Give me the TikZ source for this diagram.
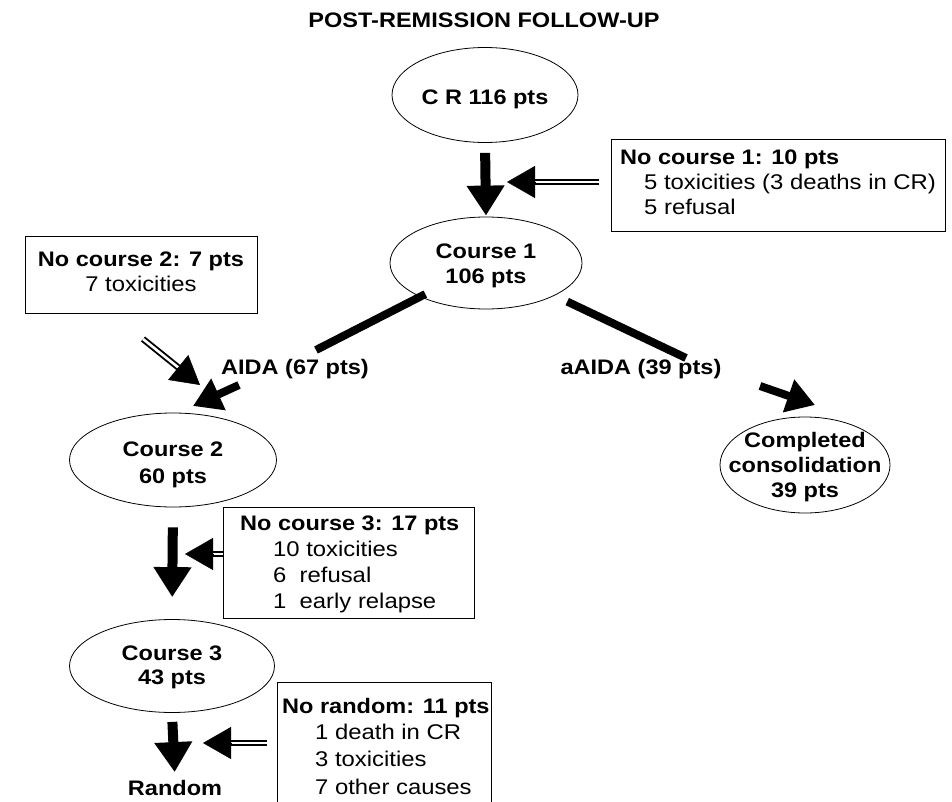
\documentclass[tikz,border=0pt]{standalone}
\usepackage{graphicx}
\usepackage{fontspec}
\setmainfont{Liberation Sans}
\usetikzlibrary{shapes.geometric,arrows.meta,calc}
\newcommand{\hs}[1]{\scalebox{1.12}[1]{#1}}
\begin{document}
\begin{tikzpicture}[x=1pt,y=-1pt,
  every node/.style={font=\fontsize{21.3}{25.5}\selectfont, inner sep=0pt, text=black},
  ell/.style={ellipse, draw, line width=0.8pt},
  box/.style={draw, line width=1pt, rectangle, anchor=north west},
  txt/.style={anchor=base west},
  ctxt/.style={anchor=base, font=\fontsize{21}{25.5}\selectfont\bfseries},
  bold/.style={font=\fontsize{21}{25.5}\selectfont\bfseries},
  bigarrow/.style={line width=10pt, -{Triangle[length=30pt,width=36pt]}},
  midarrow/.style={line width=8pt, -{Triangle[length=28pt,width=33pt]}},
  thickline/.style={line width=8pt},
  dblshaft/.style={double, double distance=2.6pt, line width=1.9pt},
  dblhead/.style={-{Triangle[length=28pt,width=32pt]}, line width=0.5pt}
]
\useasboundingbox (0,0) rectangle (952,802);
\clip (0,0) rectangle (952,802);

% title
\node[ctxt] (title) at (484,27.5) {\hs{POST-REMISSION FOLLOW-UP}};

% ellipses
\node[ell, minimum width=186, minimum height=95] (cr) at (485,95) {};
\node[ctxt] (crt) at (485,104.5) {\hs{C R 116 pts}};

\node[ell, minimum width=192, minimum height=92] (c1) at (486,263) {};
\node[ctxt] (c1a) at (486,258.5) {\hs{Course 1}};
\node[ctxt] (c1b) at (486,283.5) {\hs{106 pts}};

\node[ell, minimum width=207, minimum height=94] (c2) at (173,460) {};
\node[ctxt] (c2a) at (173,456.5) {\hs{Course 2}};
\node[ctxt] (c2b) at (173,483.5) {\hs{60 pts}};

\node[ell, minimum width=205, minimum height=93] (c3) at (172,666) {};
\node[ctxt] (c3a) at (172,660.5) {\hs{Course 3}};
\node[ctxt] (c3b) at (172,684.5) {\hs{43 pts}};

\node[ell, minimum width=170, minimum height=96] (cc) at (805,465) {};
\node[ctxt] (cca) at (805,447.5) {\hs{Completed}};
\node[ctxt] (ccb) at (805,472.5) {\hs{consolidation}};
\node[ctxt] (ccc) at (805,497.5) {\hs{39 pts}};

% labels
\node[ctxt] (aida) at (295,374.5) {\hs{AIDA (67 pts)}};
\node[ctxt] (aaida) at (641,374.5) {\hs{aAIDA (39 pts)}};
\node[ctxt] (random) at (175,795.5) {\hs{Random}};

% boxes
\node[box, minimum width=334, minimum height=92] (b1) at (611,139) {};
\node[txt, bold] (b1a) at (620,164.5) {\hs{No course 1: 10 pts}};
\node[txt] (b1b) at (644,189.5) {\hs{5 toxicities (3 deaths in CR)}};
\node[txt] (b1c) at (644,214.5) {\hs{5 refusal}};

\node[box, minimum width=232, minimum height=77] (b2) at (25,236) {};
\node[ctxt] (b2a) at (141,266.5) {\hs{No course 2: 7 pts}};
\node[anchor=base] (b2b) at (141,291.5) {\hs{7 toxicities}};

\node[box, minimum width=251, minimum height=111] (b3) at (223,507) {};
\node[txt, bold] (b3a) at (240,530.5) {\hs{No course 3: 17 pts}};
\node[txt] (b3b) at (273,556.5) {\hs{10 toxicities}};
\node[txt] (b3c) at (273,582.5) {\hs{6~~refusal}};
\node[txt] (b3d) at (273,608.5) {\hs{1~~early relapse}};

\node[box, minimum width=214, minimum height=130] (b4) at (277,682) {};
\node[txt, bold] (b4a) at (282,713.5) {\hs{No random: 11 pts}};
\node[txt] (b4b) at (315,739.5) {\hs{1 death in CR}};
\node[txt] (b4c) at (315,766.5) {\hs{3 toxicities}};
\node[txt] (b4d) at (315,794.5) {\hs{7 other causes}};

% main vertical arrows
\draw[bigarrow, shorten <=10pt, shorten >=1pt] (cr.south) -- (c1.north);
\draw[bigarrow, shorten <=20pt, shorten >=22pt] (c2.south) -- (c3.north);
\draw[bigarrow, shorten <=9pt, shorten >=8pt] (c3.south) -- (random.north);

% branches
\coordinate (l1) at (316,350);
\coordinate (r1) at (686,358);
\draw[thickline, shorten <=-6pt] (c1) -- (l1);
\draw[thickline, shorten <=14pt] (c1) -- (r1);

\coordinate (a2s) at (239,385);
\coordinate (a2t) at (193,406);
\draw[midarrow] (a2s) -- (a2t);
\coordinate (a3s) at (760,386);
\coordinate (a3t) at (815,405);
\draw[midarrow] (a3s) -- (a3t);

% double arrows
\coordinate (d1s) at (599,182);
\coordinate (d1t) at (507,182);
\draw[dblshaft] (d1s) -- ($(d1t)!26pt!(d1s)$);
\draw[dblhead] ($(d1t)!28pt!(d1s)$) -- (d1t);

\coordinate (d2s) at (143,339);
\coordinate (d2t) at (200,385);
\draw[dblshaft] (d2s) -- ($(d2t)!26pt!(d2s)$);
\draw[dblhead] ($(d2t)!28pt!(d2s)$) -- (d2t);

\coordinate (d3s) at (b3.west |- 0,554);
\coordinate (d3t) at (185,554);
\draw[dblshaft] (d3s) -- ($(d3t)!26pt!(d3s)$);
\draw[dblhead] ($(d3t)!28pt!(d3s)$) -- (d3t);

\coordinate (d4s) at (267,743);
\coordinate (d4t) at (203,743);
\draw[dblshaft] (d4s) -- ($(d4t)!26pt!(d4s)$);
\draw[dblhead] ($(d4t)!28pt!(d4s)$) -- (d4t);
\end{tikzpicture}
\end{document}
